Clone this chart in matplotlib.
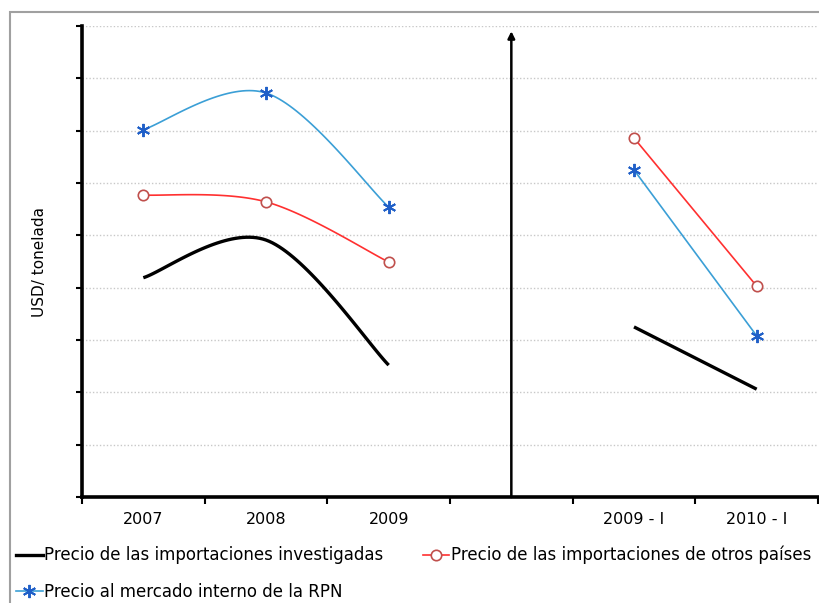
import numpy as np
import matplotlib
matplotlib.use("Agg")
import matplotlib.pyplot as plt
from matplotlib.patches import Rectangle
from matplotlib.lines import Line2D

categories = ["2007", "2008", "2009", "", "2009 - I", "2010 - I"]
investigadas = [4.19, 4.91, 2.52, None, 3.25, 2.06]
otros_paises = [5.77, 5.64, 4.49, None, 6.86, 4.03]
mercado_rpn = [7.02, 7.72, 5.54, None, 6.25, 3.08]

labels = ["Precio de las importaciones investigadas",
          "Precio de las importaciones de otros países",
          "Precio al mercado interno de la RPN"]

plt.rcParams['font.family'] = ['DejaVu Sans']

W, H = 820, 603
fig = plt.figure(figsize=(W / 100, H / 100), dpi=100)
fig.patch.set_facecolor('white')

# chart area border
fig.add_artist(Rectangle((10 / W, -0.2), 1.0, 1.2 - 12 / H, transform=fig.transFigure,
                         fill=False, edgecolor='#a0a0a0', linewidth=1.5))

ax = fig.add_axes([82 / W, (H - 497) / H, 736 / W, 471 / H])
ax.set_facecolor('white')
ax.set_xlim(-0.5, len(categories) - 0.5)
ax.set_ylim(0, 9)


def smooth(xs, ys, n=40):
    xs = np.asarray(xs, float)
    ys = np.asarray(ys, float)
    P = np.column_stack([xs, ys])
    out = [P[0]]
    for i in range(len(P) - 1):
        p0 = P[i - 1] if i > 0 else P[i]
        p1 = P[i]
        p2 = P[i + 1]
        p3 = P[i + 2] if i + 2 < len(P) else P[i + 1]
        c1 = p1 + (p2 - p0) / 6
        c2 = p2 - (p3 - p1) / 6
        t = np.linspace(0, 1, n)[1:, None]
        seg = (1 - t) ** 3 * p1 + 3 * (1 - t) ** 2 * t * c1 + 3 * (1 - t) * t ** 2 * c2 + t ** 3 * p2
        out.extend(seg)
    out = np.array(out)
    return out[:, 0], out[:, 1]


styles = [
    dict(color='black', lw=2.4, marker=None),
    dict(color='#ff3030', lw=1.2, marker='o', mfc='white', mec='#c0504d', ms=7.5, mew=1.2),
    dict(color='#3b9fd6', lw=1.2, marker=(6, 2, 0), mfc='#1f5fc8', mec='#1f5fc8', ms=9.5, mew=1.4),
]

for data, st in zip([investigadas, otros_paises, mercado_rpn], styles):
    left_x = [i for i in range(3)]
    left_y = [data[i] for i in range(3)]
    right_x = [4, 5]
    right_y = [data[4], data[5]]
    sx, sy = smooth(left_x, left_y)
    ax.plot(sx, sy, color=st['color'], lw=st['lw'], zorder=3, solid_capstyle='butt')
    ax.plot(right_x, right_y, color=st['color'], lw=st['lw'], zorder=3, solid_capstyle='butt')
    if st['marker'] is not None:
        ax.plot(left_x + right_x, left_y + right_y, linestyle='none', marker=st['marker'],
                mfc=st['mfc'], mec=st['mec'], ms=st['ms'], mew=st['mew'], zorder=4)

# gridlines
ax.set_yticks(np.arange(0, 10))
ax.yaxis.grid(True, linestyle=(0, (1, 1.5)), color='#c8c8c8', linewidth=1.0)
ax.set_axisbelow(True)
ax.set_yticklabels([])
ax.tick_params(axis='y', length=4, width=1.5, color='black', direction='out')

# x ticks
ax.set_xticks(np.arange(-0.5, len(categories), 1.0))
ax.set_xticklabels([])
ax.set_xticks(np.arange(len(categories)), minor=True)
ax.set_xticklabels(categories, minor=True, fontsize=11.5)
ax.tick_params(axis='x', which='major', length=5, width=1.5, direction='out')
ax.tick_params(axis='x', which='minor', length=0, pad=11)

for s in ['top', 'right']:
    ax.spines[s].set_visible(False)
ax.spines['left'].set_linewidth(2.6)
ax.spines['bottom'].set_linewidth(2.6)

# middle vertical axis with arrow
ax.annotate('', xy=(3, 8.9), xytext=(3, 0), xycoords='data',
            arrowprops=dict(arrowstyle='-|>', color='black', lw=1.8, mutation_scale=10,
                            shrinkA=0, shrinkB=0))

fig.text(40 / W, 1 - 262 / H, "USD/ tonelada", rotation=90, ha='center', va='center', fontsize=11)

handles = [
    Line2D([], [], color='black', lw=2.4),
    Line2D([], [], color='#3b9fd6', lw=1.2, marker=(6, 2, 0), mfc='#1f5fc8', mec='#1f5fc8', ms=9.5, mew=1.4),
    Line2D([], [], color='#ff3030', lw=1.2, marker='o', mfc='white', mec='#c0504d', ms=7.5, mew=1.2),
]
leg_labels = [labels[0], labels[2], labels[1]]
fig.legend(handles, leg_labels, loc='upper left', bbox_to_anchor=(16 / W, 1 - 546 / H),
           ncol=2, frameon=False, fontsize=12, handlelength=1.6, handletextpad=0.1,
           columnspacing=2.35, labelspacing=1.1, borderpad=0, borderaxespad=0)

fig.savefig("out.png", dpi=100)
